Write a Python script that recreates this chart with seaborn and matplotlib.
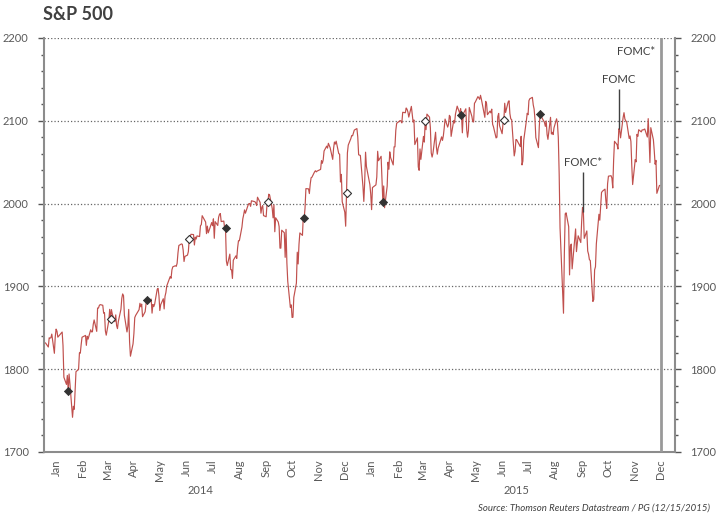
import pandas as pd
import matplotlib
matplotlib.use("Agg")
import matplotlib.pyplot as plt
import matplotlib.dates as mdates
import matplotlib.transforms as mtransforms
import seaborn as sns

# S&P 500 daily close, one value per trading day
close_2014 = [
    # Jan
    1832.0, 1831.4, 1826.8, 1837.9, 1837.5, 1838.1, 1842.4, 1819.2, 1838.9, 1848.4,
    1845.9, 1838.7, 1843.8, 1844.9, 1828.5, 1790.3, 1781.6, 1792.5, 1774.2, 1794.2, 1782.6,
    # Feb
    1741.9, 1755.2, 1751.6, 1773.4, 1797.0, 1799.8, 1819.8, 1819.3, 1829.8, 1838.6,
    1840.8, 1828.8, 1839.8, 1836.3, 1847.6, 1845.1, 1845.2, 1854.3, 1859.5,
    # Mar
    1845.7, 1873.9, 1873.8, 1877.0, 1878.0, 1877.2, 1867.6, 1868.2, 1846.3, 1841.1,
    1858.8, 1872.3, 1860.8, 1872.0, 1866.5, 1857.4, 1865.6, 1852.6, 1849.0, 1857.6, 1872.3,
    # Apr
    1885.5, 1890.9, 1888.8, 1865.1, 1845.0, 1852.0, 1872.2, 1833.1, 1815.7, 1830.6,
    1843.0, 1862.3, 1864.9, 1871.9, 1879.6, 1875.4, 1878.6, 1863.4, 1869.4, 1878.3, 1884.0,
    # May
    1883.7, 1881.1, 1884.7, 1867.7, 1878.2, 1875.6, 1878.5, 1896.7, 1897.5, 1888.5,
    1870.9, 1877.9, 1885.1, 1872.8, 1888.0, 1892.5, 1900.5, 1911.9, 1909.8, 1920.0, 1923.6,
    # Jun
    1925.0, 1924.2, 1927.9, 1940.5, 1949.4, 1951.3, 1950.8, 1943.9, 1930.1, 1936.2,
    1937.8, 1942.0, 1957.0, 1959.5, 1962.9, 1962.6, 1950.0, 1959.5, 1957.2, 1961.0, 1960.2,
    # Jul
    1973.3, 1974.6, 1985.4, 1977.7, 1963.7, 1972.8, 1964.7, 1967.6, 1977.1, 1973.3,
    1981.6, 1958.1, 1978.2, 1973.6, 1983.5, 1987.0, 1988.0, 1978.3, 1978.9, 1970.0,
    1970.1, 1930.7,
    # Aug
    1925.2, 1939.0, 1920.2, 1920.2, 1909.6, 1931.6, 1936.9, 1933.8, 1946.7, 1955.2,
    1955.1, 1971.7, 1981.6, 1986.5, 1992.4, 1988.4, 1997.9, 2000.0, 2000.1, 1996.7, 2003.4,
    # Sep
    2002.3, 2000.7, 1997.7, 2007.7, 2001.5, 1988.4, 1995.7, 1997.5, 1985.5, 1984.1,
    1999.0, 2001.6, 2011.4, 2010.4, 1994.3, 1982.8, 1998.3, 1966.0, 1982.9, 1977.8, 1972.3,
    # Oct
    1946.2, 1946.2, 1967.9, 1964.8, 1935.1, 1968.9, 1928.2, 1906.1, 1874.7, 1877.7,
    1862.5, 1862.8, 1886.8, 1904.0, 1941.3, 1927.1, 1950.8, 1964.6, 1961.6, 1985.1,
    1982.3, 1994.7, 2018.1,
    # Nov
    2017.8, 2012.1, 2023.6, 2031.2, 2031.9, 2038.3, 2039.7, 2038.3, 2039.3, 2039.8,
    2041.3, 2051.8, 2048.7, 2052.8, 2063.5, 2069.4, 2067.0, 2072.8, 2067.6,
    # Dec
    2053.4, 2066.6, 2074.3, 2071.9, 2075.4, 2060.3, 2059.8, 2026.1, 2035.3, 2002.3,
    1989.6, 1972.7, 2012.9, 2061.2, 2070.7, 2078.5, 2082.2, 2081.9, 2088.8, 2090.6,
    2080.4, 2058.9,
]

close_2015 = [
    # Jan
    2058.2, 2020.6, 2002.6, 2025.9, 2062.1, 2044.8, 2028.3, 2023.0, 2011.3, 1992.7,
    2019.4, 2022.6, 2032.1, 2063.2, 2051.8, 2057.1, 2029.6, 2002.2, 2021.3, 1995.0,
    # Feb
    2020.9, 2050.0, 2041.5, 2062.5, 2055.5, 2046.7, 2068.6, 2068.5, 2088.5, 2097.0,
    2100.3, 2099.7, 2097.5, 2110.3, 2109.7, 2115.5, 2113.9, 2110.7, 2104.5,
    # Mar
    2117.4, 2107.8, 2098.5, 2101.0, 2071.3, 2079.4, 2044.2, 2040.2, 2066.0, 2053.4,
    2081.2, 2074.3, 2099.5, 2089.3, 2108.1, 2104.4, 2091.5, 2061.1, 2056.2, 2061.0,
    2086.2, 2067.9,
    # Apr
    2059.7, 2067.0, 2080.6, 2076.3, 2081.9, 2091.2, 2102.1, 2092.4, 2095.8, 2106.6,
    2105.0, 2081.2, 2100.4, 2097.3, 2108.0, 2112.9, 2117.7, 2108.9, 2114.8, 2106.9, 2085.5,
    # May
    2108.3, 2114.5, 2089.5, 2080.2, 2088.0, 2116.1, 2105.3, 2099.1, 2098.5, 2121.1,
    2122.7, 2129.2, 2127.8, 2125.9, 2130.8, 2126.1, 2104.2, 2123.5, 2120.8, 2107.4,
    # Jun
    2111.7, 2109.6, 2114.1, 2095.8, 2092.8, 2079.3, 2080.2, 2105.2, 2108.9, 2094.1,
    2084.4, 2096.3, 2100.4, 2121.2, 2110.0, 2122.9, 2124.2, 2108.6, 2102.3, 2101.5,
    2057.6, 2063.1,
    # Jul
    2077.4, 2076.8, 2068.8, 2081.3, 2046.7, 2051.3, 2076.6, 2099.6, 2109.0, 2107.4,
    2124.3, 2126.6, 2128.3, 2119.2, 2114.2, 2102.2, 2079.7, 2067.6, 2093.3, 2108.6,
    2108.6, 2103.8,
    # Aug
    2098.0, 2093.3, 2099.8, 2083.6, 2077.6, 2104.2, 2084.1, 2086.1, 2083.4, 2091.5,
    2102.4, 2096.9, 2079.6, 2035.7, 1970.9, 1893.2, 1867.6, 1940.5, 1987.7, 1988.9, 1972.2,
    # Sep
    1913.9, 1948.9, 1951.1, 1921.2, 1969.4, 1942.0, 1952.3, 1961.1, 1953.0, 1978.1,
    1995.3, 1990.2, 1958.0, 1967.0, 1942.7, 1938.8, 1932.2, 1931.3, 1881.8, 1884.1, 1920.0,
    # Oct
    1923.8, 1951.4, 1987.1, 1979.9, 1995.8, 2013.4, 2014.9, 2017.5, 2003.7, 1994.2,
    2023.9, 2033.1, 2033.7, 2030.8, 2018.9, 2052.5, 2075.2, 2071.2, 2065.9, 2090.4,
    2089.4, 2079.4,
    # Nov
    2104.1, 2109.8, 2102.3, 2099.9, 2099.2, 2078.6, 2081.7, 2075.0, 2046.0, 2023.0,
    2053.2, 2050.4, 2083.6, 2081.2, 2089.2, 2086.6, 2089.1, 2088.9, 2090.1, 2080.4,
    # Dec
    2102.6, 2079.5, 2049.6, 2091.7, 2077.1, 2063.6, 2047.6, 2052.2, 2012.4, 2021.9, 2022.0,
]

market_holidays = [
    "2014-01-01", "2014-01-20", "2014-02-17", "2014-04-18", "2014-05-26", "2014-07-04",
    "2014-09-01", "2014-11-27", "2014-12-25",
    "2015-01-01", "2015-01-19", "2015-02-16", "2015-04-03", "2015-05-25", "2015-07-03",
    "2015-09-07", "2015-11-26", "2015-12-25",
]

# FOMC meetings: open diamond = meeting with press conference
fomc_dates = [
    "2014-01-29", "2014-03-19", "2014-04-30", "2014-06-18", "2014-07-30", "2014-09-17",
    "2014-10-29", "2014-12-17", "2015-01-28", "2015-03-18", "2015-04-29", "2015-06-17",
    "2015-07-29",
]
press_conf = [False, True, False, True, False, True, False, True, False, True, False, True, False]

callouts = ["2015-09-17", "2015-10-28"]
callout_text = ["FOMC*", "FOMC"]
callout_top = [2038, 2138]
dec_meeting = "2015-12-16"

month_names = ["Jan", "Feb", "Mar", "Apr", "May", "Jun", "Jul", "Aug", "Sep", "Oct", "Nov", "Dec"]
years = [2014, 2015]

sns.set_style("white")
plt.rcParams['font.family'] = ['Lato', 'DejaVu Sans']

days = pd.bdate_range("2014-01-01", "2015-12-15")
days = days[~days.isin(pd.to_datetime(market_holidays))]
df = pd.DataFrame({"date": days, "close": close_2014 + close_2015})

fig = plt.figure(figsize=(7.18, 5.16), dpi=100)
ax = fig.add_axes([44 / 718, 1 - 452 / 516, 631 / 718, 414 / 516])

red = "#C0504D"
dark = "#333333"
grey = "#8C8C8C"
txt = "#595959"

sns.lineplot(data=df, x="date", y="close", color=red, lw=0.85, estimator=None, ax=ax)

fomc = df[df["date"].isin(pd.to_datetime(fomc_dates))].copy()
fomc["press"] = press_conf
sns.scatterplot(data=fomc[~fomc["press"]], x="date", y="close", marker="D", s=17,
                color=dark, edgecolor=dark, linewidth=0.6, zorder=4, ax=ax)
sns.scatterplot(data=fomc[fomc["press"]], x="date", y="close", marker="D", s=17,
                color="white", edgecolor=dark, linewidth=0.8, zorder=4, ax=ax)

# call-out lines for the 2015 meetings
for d, lab, top in zip(callouts, callout_text, callout_top):
    d = pd.Timestamp(d)
    y0 = df.loc[df["date"] == d, "close"].iloc[0]
    ax.vlines(d, y0, top, color="#404040", lw=1, zorder=5)
    ax.text(d, top + 5, lab, ha="center", va="bottom", fontsize=8.2, color="#404040")

dm = pd.Timestamp(dec_meeting)
ax.axvline(dm, color="#999999", lw=2, zorder=5)
ax.annotate("FOMC*", xy=(dm, 2184), xytext=(-4, 0), textcoords="offset points",
            ha="right", va="center", fontsize=8.2, color="#404040")

ax.set_xlim(pd.Timestamp("2014-01-01"), pd.Timestamp("2016-01-01"))
ax.set_ylim(1700, 2200)
ax.set_xlabel("")
ax.set_ylabel("")

# axes styling
ax.spines["top"].set_visible(False)
for s in ["left", "right", "bottom"]:
    ax.spines[s].set_color(grey)
    ax.spines[s].set_linewidth(1.5)

ax.set_yticks(range(1700, 2201, 100))
ax.set_yticks(range(1700, 2201, 20), minor=True)
ax.yaxis.grid(True, which="major", linestyle=":", color="#666666", lw=0.9)
ax.tick_params(axis="y", which="major", direction="out", length=4, width=1, color="#555555",
               labelsize=8, labelcolor=txt, left=True, right=True, labelleft=True,
               labelright=True, pad=7)
ax.tick_params(axis="y", which="minor", direction="out", length=2.5, width=1,
               color="#555555", left=True, right=True)

ax.xaxis.set_major_locator(mdates.MonthLocator())
ax.xaxis.set_major_formatter(plt.NullFormatter())
ax.set_xticks(mdates.date2num(pd.date_range("2014-01-01", "2015-12-31", freq="D")), minor=True)
ax.tick_params(axis="x", which="major", direction="out", length=4, width=1, color="#555555")
ax.tick_params(axis="x", which="minor", direction="in", length=2, width=0.5, color=grey)

trans = mtransforms.blended_transform_factory(ax.transData, ax.transAxes)
for yr in years:
    for m, name in enumerate(month_names):
        mid = pd.Timestamp(yr, m + 1, 15)
        ax.text(mid, -0.017, name, rotation=90, ha="center", va="top",
                fontsize=8, color=txt, transform=trans)
    ax.text(pd.Timestamp(yr, 7, 1), -0.092, str(yr), ha="center", va="center",
            fontsize=8, color=txt, transform=trans)

fig.text(43 / 718, 1 - 15 / 516, "S&P 500", fontsize=13, fontweight="bold",
         color="#404040", ha="left", va="center")
fig.text(710 / 718, 1 - 508 / 516, "Source: Thomson Reuters Datastream / PG (12/15/2015)",
         fontsize=6.9, style="italic", color="#404040", ha="right", va="center")

fig.savefig("out.png", dpi=100)
